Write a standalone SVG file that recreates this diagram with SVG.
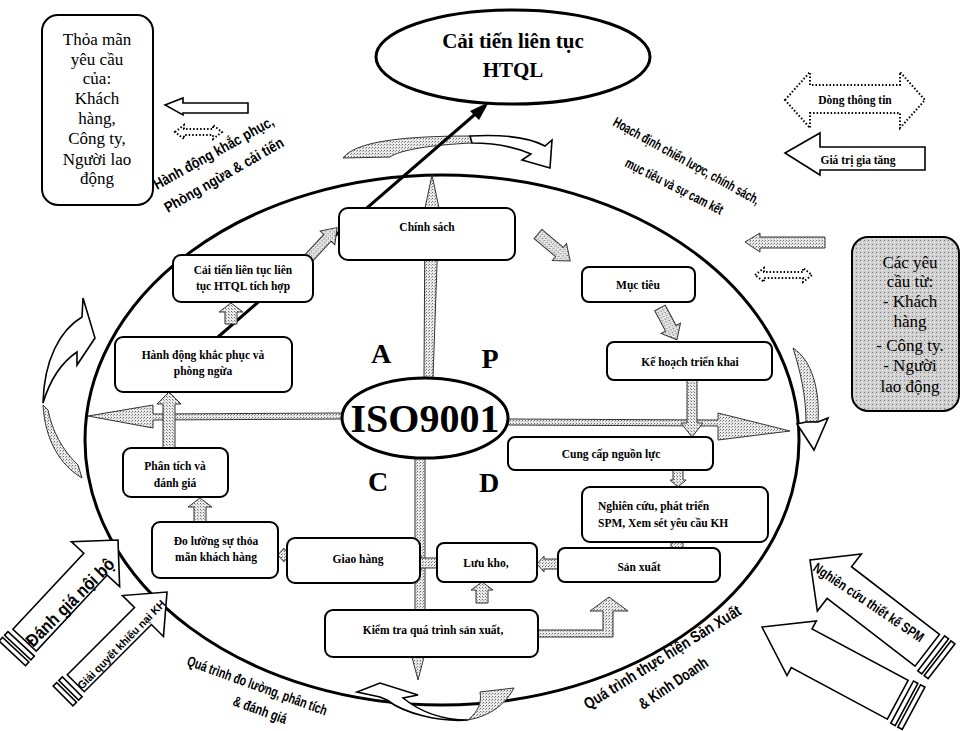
<svg xmlns="http://www.w3.org/2000/svg" width="961" height="731" viewBox="0 0 961 731">
<defs>
<pattern id="g" width="3" height="3" patternUnits="userSpaceOnUse"><rect width="3" height="3" fill="#eaeaea"/><rect width="1" height="1" fill="#6a6a6a"/><rect x="2" y="1" width="1" height="1" fill="#a0a0a0"/></pattern>
<pattern id="g2" width="4" height="4" patternUnits="userSpaceOnUse"><rect width="4" height="4" fill="#cfcfcf"/><rect width="1" height="1" fill="#777"/><rect x="2" y="2" width="1" height="1" fill="#f4f4f4"/></pattern>
</defs>
<style>
.bx{fill:#fff;stroke:#000;stroke-width:2}
.sh{fill:url(#g);stroke:#333;stroke-width:1}
.wa{fill:#fff;stroke:#000;stroke-width:1.6}
.dt{fill:none;stroke:#000;stroke-width:2;stroke-dasharray:1.5 2}
.s{font-family:"Liberation Serif","Times New Roman",serif;font-weight:bold;font-size:11.5px;text-anchor:middle;fill:#000}
.r{font-family:"Liberation Serif","Times New Roman",serif;font-size:17px;text-anchor:middle;fill:#000}
.n{font-family:"Liberation Sans Narrow","Liberation Sans",Arial,sans-serif;font-weight:bold;fill:#000}
.big{font-family:"Liberation Serif","Times New Roman",serif;font-weight:bold;text-anchor:middle;fill:#000}
</style>
<rect width="961" height="731" fill="#fff"/>

<!-- main ellipse -->
<g id="cycle"><ellipse cx="442" cy="440" rx="357" ry="265" fill="none" stroke="#000" stroke-width="3"/></g>

<!-- decorative curved arrows around the cycle -->
<g id="ornaments">
<path class="sh" d="M343,158 C355,142 400,136 470,136 L472,143 C430,145 400,150 390,157 Z"/>
<path class="wa" d="M470,136 C505,134 530,138 545,146 L552,140 L550,168 L522,160 L531,154 C515,147 495,143 472,143 Z"/>
<path class="sh" d="M793,348 C812,360 820,390 818,422 L806,422 C806,395 800,370 793,348 Z"/>
<path class="wa" d="M806,422 L818,422 L828,418 L814,450 L797,424 Z"/>
<path class="sh" d="M480,692 L514,688 C505,705 490,716 468,720 C478,712 482,702 480,692 Z"/>
<path class="wa" d="M468,720 C440,720 418,710 403,698 L418,695 L380,683 L357,692 L380,697 L387,700 C405,714 440,722 468,720 Z"/>
<path class="wa" d="M43,403 C44,360 60,330 82,317 L83,298 L95,338 L77,365 L77,352 C62,362 50,380 43,403 Z"/>
<path class="sh" d="M43,405 C45,440 60,465 82,478 L78,465 C62,450 52,430 48,410 Z"/>
</g>

<!-- connectors -->
<g id="connectors">
<path d="M218,337 L480,110" stroke="#000" stroke-width="3" fill="none"/>
<path d="M489,102 L470,111 L479,120 Z" fill="#000"/>
<path class="sh" d="M424,378 L425,208 L432,175 L439,208 L433,378 Z"/>
<path class="sh" d="M415,455 L415,612 L425,612 L425,455 Z"/>
<path class="sh" d="M412,657 L418,680 L424,657 Z"/>
<path class="sh" d="M342,413 L153,414 L153,405 L88,416 L153,428 L153,420 L342,419 Z"/>
<path class="sh" d="M508,419 L718,420 L718,413 L790,431 L718,440 L718,426 L508,425 Z"/>
<path class="sh" transform="translate(305,262) rotate(-47)" d="M0,-5H33V-10L47,0L33,10V5H0Z"/>
<path class="sh" transform="translate(538,234) rotate(40)" d="M0,-6H28V-11L42,0L28,11V6H0Z"/>
<path class="sh" transform="translate(660,308) rotate(62)" d="M0,-6H23V-11L36,0L23,11V6H0Z"/>
<path class="sh" transform="translate(692,380) rotate(90)" d="M0,-5H43V-11L57,0L43,11V5H0Z"/>
<path class="sh" transform="translate(678,470) rotate(90)" d="M0,-5H10V-8L17,0L10,8V5H0Z"/>
<rect class="sh" x="671" y="542" width="12" height="6"/>
<path class="sh" transform="translate(558,564) rotate(180)" d="M0,-5H14V-8L21,0L14,8V5H0Z"/>
<path class="sh" transform="translate(438,563) rotate(180)" d="M0,-5H17V-8L25,0L17,8V5H0Z"/>
<path class="sh" transform="translate(288,555) rotate(180)" d="M0,-5H4V-7L10,0L4,7V5H0Z"/>
<path class="sh" transform="translate(482,603) rotate(-90)" d="M0,-6H13V-11L21,0L13,11V6H0Z"/>
<path class="sh" transform="translate(200,522) rotate(-90)" d="M0,-6H15V-12L24,0L15,12V6H0Z"/>
<path class="sh" transform="translate(169,448) rotate(-90)" d="M0,-6H44V-12L56,0L44,12V6H0Z"/>
<path class="sh" transform="translate(231,324) rotate(-90)" d="M0,-6H12V-12L21,0L12,12V6H0Z"/>
<path class="sh" d="M538,630 H603 V611 H590 L609,597 L628,611 H613 V637 H538 Z"/>
</g>

<!-- centre -->
<g id="iso">
<ellipse cx="425" cy="418" rx="83" ry="40" fill="#fff" stroke="#000" stroke-width="3"/>
<text class="big" x="425" y="432" font-size="40">ISO9001</text>
</g>
<g id="quadrants" class="big" font-size="28">
<text x="381" y="363">A</text>
<text x="490" y="368">P</text>
<text x="378" y="491">C</text>
<text x="489" y="492">D</text>
</g>

<g id="top-goal">
<ellipse cx="513" cy="57" rx="137" ry="47" fill="#fff" stroke="#000" stroke-width="3"/>
<text class="big" x="513" y="48" font-size="21">Cải tiến liên tục</text>
<text class="big" x="513" y="77" font-size="21">HTQL</text>
</g>

<g id="chinh-sach"><rect class="bx" x="339" y="208" width="176" height="52" rx="9"/><text class="s" x="427" y="231">Chính sách</text></g>
<g id="muc-tieu"><rect class="bx" x="582" y="267" width="113" height="35" rx="7"/><text class="s" x="638" y="289">Mục tiêu</text></g>
<g id="ke-hoach"><rect class="bx" x="607" y="342" width="165" height="38" rx="7"/><text class="s" x="690" y="366">Kế hoạch triển khai</text></g>
<g id="cung-cap"><rect class="bx" x="508" y="437" width="205" height="33" rx="7"/><text class="s" x="611" y="458">Cung cấp nguồn lực</text></g>
<g id="nghien-cuu"><rect class="bx" x="582" y="487" width="186" height="55" rx="8"/><text class="s" x="598" y="510" style="text-anchor:start" font-size="12.5">Nghiên cứu, phát triển</text><text class="s" x="598" y="527" style="text-anchor:start" font-size="12.5">SPM, Xem sét yêu cầu  KH</text></g>
<g id="san-xuat"><rect class="bx" x="558" y="548" width="162" height="34" rx="7"/><text class="s" x="639" y="571" font-size="14.5">Sản xuất</text></g>
<g id="luu-kho"><rect class="bx" x="437" y="543" width="100" height="39" rx="7"/><text class="s" x="486" y="567" font-size="12">Lưu kho,</text></g>
<g id="giao-hang"><rect class="bx" x="287" y="538" width="133" height="45" rx="8"/><text class="s" x="358" y="563" font-size="13">Giao hàng</text></g>
<g id="kiem-tra"><rect class="bx" x="325" y="610" width="213" height="47" rx="8"/><text class="s" x="433" y="634" font-size="12">Kiểm tra quá trình sản xuất,</text></g>
<g id="do-luong"><rect class="bx" x="152" y="522" width="126" height="56" rx="8"/><text class="s" x="216" y="545" font-size="12" font-weight="normal">Đo lường sự thỏa</text><text class="s" x="216" y="561" font-size="12" font-weight="normal">mãn  khách hàng</text></g>
<g id="phan-tich"><rect class="bx" x="123" y="448" width="105" height="49" rx="8"/><text class="s" x="175" y="470" font-size="12">Phân tích và</text><text class="s" x="175" y="487" font-size="12">đánh giá</text></g>
<g id="hanh-dong"><rect class="bx" x="115" y="337" width="177" height="55" rx="8"/><text class="s" x="203" y="359" font-size="12">Hành động khắc phục và</text><text class="s" x="203" y="375" font-size="12">phòng ngừa</text></g>
<g id="cai-tien"><rect class="bx" x="173" y="255" width="140" height="47" rx="8"/><text class="s" x="243" y="274" font-size="11.5">Cải tiến liên tục liên</text><text class="s" x="243" y="290" font-size="11.5">tục HTQL tích hợp</text></g>

<g id="thoa-man">
<rect class="bx" x="42" y="15" width="111" height="190" rx="16"/>
<text class="r" x="97" y="45">Thỏa mãn</text>
<text class="r" x="97" y="65">yêu cầu</text>
<text class="r" x="97" y="84">của:</text>
<text class="r" x="97" y="104">Khách</text>
<text class="r" x="97" y="124">hàng,</text>
<text class="r" x="97" y="144">Công ty,</text>
<text class="r" x="97" y="165">Người lao</text>
<text class="r" x="97" y="184">động</text>
</g>

<g id="cac-yeu-cau">
<rect x="852" y="237" width="107" height="174" rx="16" fill="url(#g2)" stroke="#000" stroke-width="2"/>
<text class="r" x="910" y="268" font-size="16">Các yêu</text>
<text class="r" x="910" y="287" font-size="16">cầu từ:</text>
<text class="r" x="910" y="307" font-size="16">- Khách</text>
<text class="r" x="910" y="327" font-size="16">hàng</text>
<text class="r" x="910" y="351" font-size="16">- Công ty.</text>
<text class="r" x="910" y="371" font-size="16">- Người</text>
<text class="r" x="910" y="392" font-size="16">lao động</text>
</g>

<g id="legend">
<path class="dt" d="M785,100 L810,72 L810,85 L900,85 L900,72 L925,100 L900,128 L900,113 L810,113 L810,128 Z"/>
<text class="s" x="855" y="104" font-size="13">Dòng thông tin</text>
<path class="wa" d="M785,153 L820,133 L820,147 L925,147 L925,170 L820,170 L820,175 Z"/>
<text class="s" x="858" y="164" font-size="13">Giá trị  gia tăng</text>
</g>

<g id="flows-left">
<path class="wa" d="M165,105 L183,98 L183,103 L248,103 L248,113 L183,113 L183,115 Z"/>
<path class="dt" stroke-width="1.6" d="M175,132 L184,125 L184,129 L213,129 L213,125 L222,132 L213,139 L213,135 L184,135 L184,139 Z"/>
<text class="n" font-size="15" transform="translate(157,190) rotate(-29)" textLength="135" lengthAdjust="spacingAndGlyphs">Hành động khắc phục,</text>
<text class="n" font-size="15" transform="translate(168,213) rotate(-30)" textLength="135" lengthAdjust="spacingAndGlyphs">Phòng ngừa &amp; cải tiến</text>
</g>

<g id="flows-right">
<path class="sh" stroke="#555" d="M745,242 L760,233 L760,237 L825,237 L825,248 L760,248 L760,252 Z"/>
<path class="dt" stroke-width="1.6" d="M755,275 L764,268 L764,272 L803,272 L803,268 L812,275 L803,282 L803,278 L764,278 L764,282 Z"/>
<text class="n" font-size="14" transform="translate(612,125) rotate(29)" textLength="165" lengthAdjust="spacingAndGlyphs">Hoạch định chiến lược, chính sách,</text>
<text class="n" font-size="14" transform="translate(624,166) rotate(27)" textLength="108" lengthAdjust="spacingAndGlyphs">mục tiêu và sự cam kết</text>
</g>

<g id="danh-gia-noi-bo">
<path class="wa" transform="translate(118,540) rotate(-47)" d="M-137,-16 H-33 V-33 L0,0 L-33,33 V16 H-137 Z"/>
<rect class="wa" transform="translate(118,540) rotate(-47)" x="-147" y="-18" width="5" height="36"/>
<rect class="wa" transform="translate(118,540) rotate(-47)" x="-155" y="-18" width="5" height="36"/>
<text class="n" font-size="18" transform="translate(33,648) rotate(-45)" textLength="117" lengthAdjust="spacingAndGlyphs">Đánh giá nội bộ</text>
</g>
<g id="giai-quyet">
<path class="wa" transform="translate(167,592) rotate(-45)" d="M-129,-12 H-34 V-29 L0,0 L-34,29 V12 H-129 Z"/>
<rect class="wa" transform="translate(167,592) rotate(-45)" x="-139" y="-14" width="5" height="28"/>
<rect class="wa" transform="translate(167,592) rotate(-45)" x="-147" y="-14" width="5" height="28"/>
<text class="n" font-size="11" transform="translate(82,690) rotate(-45.5)" textLength="120" lengthAdjust="spacingAndGlyphs">Giải quyết khiếu nại KH</text>
</g>
<g id="nghien-cuu-tk">
<path class="wa" transform="translate(810,560) rotate(-142.4)" d="M-148,-20 H-37 V-36 L0,0 L-37,36 V20 H-148 Z"/>
<rect class="wa" transform="translate(810,560) rotate(-142.4)" x="-158" y="-22" width="5" height="44"/>
<rect class="wa" transform="translate(810,560) rotate(-142.4)" x="-166" y="-22" width="5" height="44"/>
<text class="n" font-size="14" transform="translate(812,570) rotate(34)" textLength="130" lengthAdjust="spacingAndGlyphs">Nghiên cứu thiết kế SPM</text>
</g>
<g id="big-arrow">
<path class="wa" transform="translate(762,627) rotate(-151.8)" d="M-154,-22 H-45 V-31 L0,0 L-45,31 V22 H-154 Z"/>
<rect class="wa" transform="translate(762,627) rotate(-151.8)" x="-164" y="-24" width="5" height="48"/>
<rect class="wa" transform="translate(762,627) rotate(-151.8)" x="-172" y="-24" width="5" height="48"/>
</g>

<g id="process-labels">
<text class="n" font-size="14.5" transform="translate(186,665) rotate(20)" textLength="148" lengthAdjust="spacingAndGlyphs">Quá trình đo lường, phân tích</text>
<text class="n" font-size="14.5" transform="translate(232,705) rotate(20)" textLength="56" lengthAdjust="spacingAndGlyphs">&amp; đánh giá</text>
<text class="n" font-size="16" transform="translate(588,710) rotate(-32)" textLength="182" lengthAdjust="spacingAndGlyphs">Quá trình thực hiện Sản Xuất</text>
<text class="n" font-size="16" transform="translate(643,710) rotate(-34)" textLength="80" lengthAdjust="spacingAndGlyphs">&amp; Kinh Doanh</text>
</g>
</svg>
